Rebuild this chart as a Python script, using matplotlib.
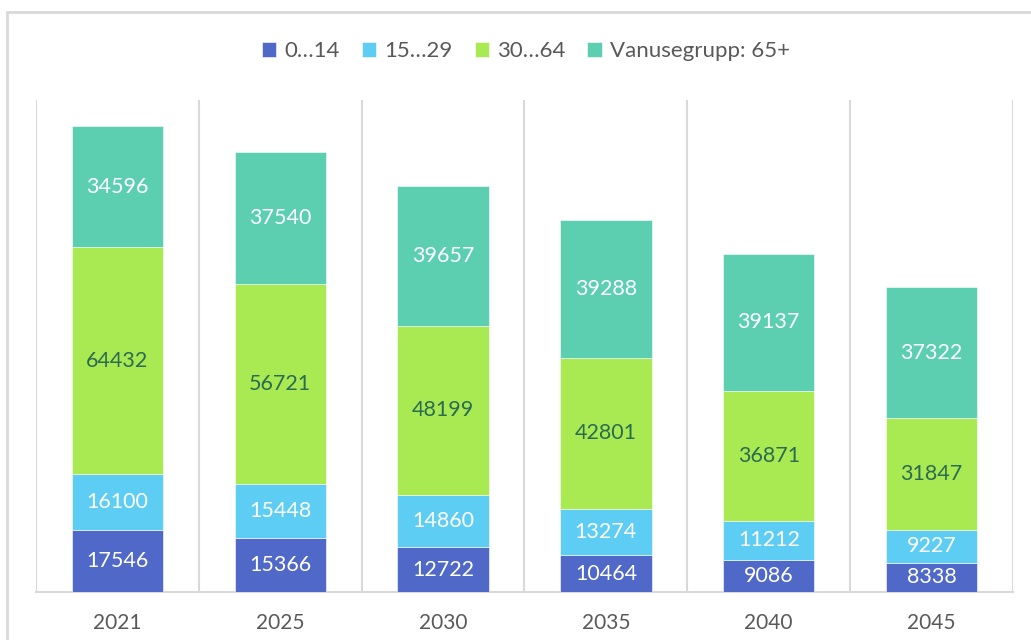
import matplotlib.pyplot as plt
from matplotlib.patches import Rectangle
import numpy as np

years = ["2021", "2025", "2030", "2035", "2040", "2045"]
age_0_14 = [17546, 15366, 12722, 10464, 9086, 8338]
age_15_29 = [16100, 15448, 14860, 13274, 11212, 9227]
age_30_64 = [64432, 56721, 48199, 42801, 36871, 31847]
age_65 = [34596, 37540, 39657, 39288, 39137, 37322]
series_names = ["0…14", "15…29", "30…64", "Vanusegrupp: 65+"]

colors = ["#5068c8", "#5ecdf3", "#a9ea52", "#5ccfb0"]
label_colors = ["white", "white", "#2b6b52", "white"]

plt.rcParams["font.family"] = ["Lato", "DejaVu Sans"]

fig = plt.figure(figsize=(10.31, 6.4), dpi=100)
fig.patches.append(Rectangle((7 / 1031, -0.1), 1.2, (640 - 12) / 640 + 0.1,
                             transform=fig.transFigure, fill=False,
                             edgecolor="#d9d9d9", linewidth=2))

ax = fig.add_axes([36 / 1031, 48 / 640, 977 / 1031, 492 / 640])
x = np.arange(len(years))
bottom = np.zeros(len(years))
series = [age_0_14, age_15_29, age_30_64, age_65]
for vals, name, c, lc in zip(series, series_names, colors, label_colors):
    vals = np.array(vals)
    bars = ax.bar(x, vals, 0.56, bottom=bottom, color=c, label=name,
                  edgecolor="white", linewidth=0.4, zorder=3)
    ax.bar_label(bars, labels=[str(v) for v in vals], label_type="center",
                 color=lc, fontsize=15.5)
    bottom += vals

ax.set_xlim(-0.5, len(years) - 0.5)
ax.set_ylim(0, 140000)
ax.set_xticks(x)
ax.set_xticklabels(years, fontsize=15, color="#595959")
ax.set_xticks(np.arange(-0.5, len(years)), minor=True)
ax.tick_params(axis="x", which="both", length=0, pad=15)
ax.set_yticks([])
ax.grid(axis="x", which="minor", color="#d9d9d9", linewidth=1.5, zorder=0)
for s in ["top", "left", "right"]:
    ax.spines[s].set_visible(False)
ax.spines["bottom"].set_color("#d9d9d9")
ax.spines["bottom"].set_linewidth(1.5)

fig.legend(loc="upper center", bbox_to_anchor=(0.51, 0.967), ncol=4,
           frameon=False, fontsize=16, handlelength=0.65, handleheight=0.65,
           handletextpad=0.35, columnspacing=1.0, labelcolor="#595959")

fig.savefig("out.png", dpi=100)
